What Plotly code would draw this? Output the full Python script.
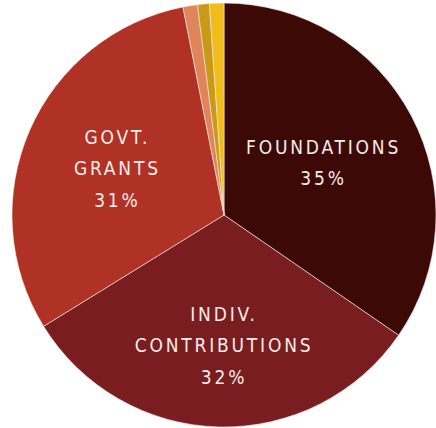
import plotly.graph_objects as go

categories = ["FOUNDATIONS", "INDIV.<br>CONTRIBUTIONS", "GOVT.<br>GRANTS", "OTHER A", "OTHER B", "OTHER C"]
values = [34.6, 31.6, 30.7, 1.1, 0.9, 1.1]
show_label = [True, True, True, False, False, False]
colors = ["#3d0906", "#7a1d21", "#b03226", "#e0845a", "#c99a18", "#f1bd1b"]

sp = '<span style="letter-spacing:2.8px;font-size:19px">'
texttemplates = [(sp + "%{label}<br>%{percent:.0%}</span>") if s else "" for s in show_label]

fig = go.Figure(go.Pie(
    labels=categories,
    values=values,
    texttemplate=texttemplates,
    textposition="inside",
    insidetextorientation="horizontal",
    sort=False,
    direction="clockwise",
    rotation=0,
    marker=dict(colors=colors, line=dict(color="#f6e9e0", width=0.6)),
    textfont=dict(family="DejaVu Sans Condensed, Liberation Sans Narrow, Roboto Condensed, sans-serif",
                  size=24, color="#f4ece6"),
    hoverinfo="label+percent",
    showlegend=False,
))
fig.update_layout(
    width=436, height=428,
    margin=dict(l=12, r=0, t=3, b=1),
    paper_bgcolor="white",
    showlegend=False,
)
fig.write_html("out.html")
